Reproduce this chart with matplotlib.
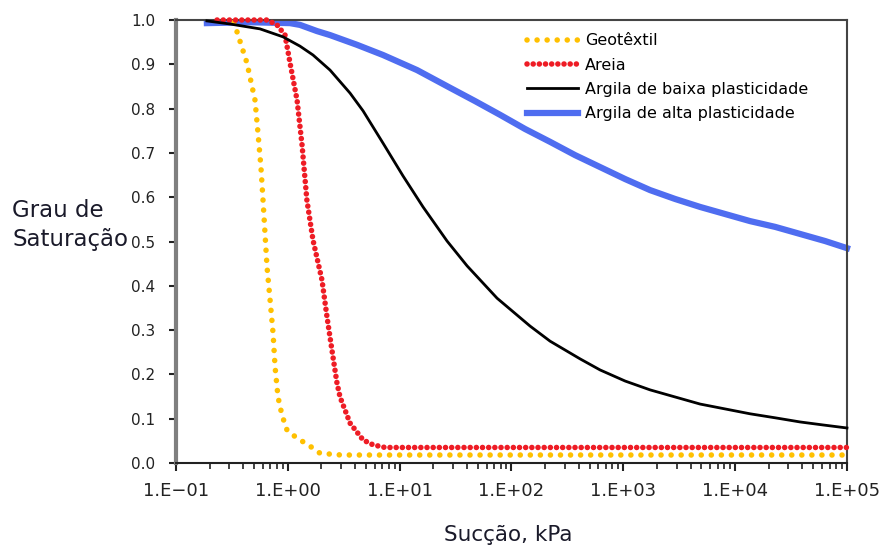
import matplotlib
matplotlib.use("Agg")
import matplotlib.pyplot as plt
from matplotlib.ticker import FixedLocator, LogLocator, NullFormatter

plt.rcParams['font.family'] = ['DejaVu Sans']

# Geotêxtil
geo_x = [0.33, 0.431, 0.509, 0.541, 0.575, 0.600, 0.625, 0.652, 0.694, 0.738,
         0.769, 0.817, 0.887, 0.984, 1.21, 1.52, 1.94, 3.0, 10.0, 100.0,
         1000.0, 10000.0, 100000.0]
geo_y = [0.995, 0.903, 0.819, 0.745, 0.668, 0.594, 0.519, 0.442, 0.368, 0.293,
         0.217, 0.149, 0.108, 0.074, 0.056, 0.041, 0.022, 0.018, 0.018, 0.018,
         0.018, 0.018, 0.018]

# Areia
are_x = [0.233, 0.652, 0.80, 0.944, 1.047, 1.21, 1.34, 1.48, 1.68, 2.02,
         2.24, 2.48, 2.75, 2.93, 3.60, 4.71, 5.78, 7.4, 100.0, 1000.0,
         10000.0, 100000.0]
are_y = [1.0, 1.0, 0.989, 0.966, 0.903, 0.819, 0.718, 0.594, 0.503, 0.413,
         0.330, 0.255, 0.181, 0.149, 0.090, 0.052, 0.041, 0.035, 0.035, 0.035,
         0.035, 0.035]

# Argila de baixa plasticidade
abp_x = [0.189, 0.304, 0.564, 0.906, 1.285, 1.68, 2.385, 3.601, 4.706, 7.104,
         10.72, 16.19, 26.55, 40.08, 74.33, 146.7, 221.4, 410.8, 620.2, 1038,
         1737, 2906, 4864, 8140, 13620, 22790, 38140, 61260, 100000]
abp_y = [0.998, 0.991, 0.980, 0.962, 0.941, 0.921, 0.887, 0.835, 0.795, 0.722,
         0.648, 0.578, 0.501, 0.445, 0.372, 0.309, 0.275, 0.235, 0.210, 0.185,
         0.165, 0.149, 0.133, 0.122, 0.111, 0.102, 0.0926, 0.0858, 0.079]

# Argila de alta plasticidade
aap_x = [0.189, 0.459, 1.046, 1.285, 1.825, 2.385, 4.159, 7.104, 14.31, 28.24,
         47.25, 79.07, 132.3, 221.4, 370.5, 620.2, 1038, 1737, 2906, 4864,
         8140, 13620, 22790, 38140, 63830, 100000]
aap_y = [0.993, 0.995, 0.993, 0.989, 0.975, 0.966, 0.944, 0.921, 0.887, 0.847,
         0.817, 0.786, 0.754, 0.725, 0.695, 0.668, 0.641, 0.616, 0.596, 0.578,
         0.562, 0.546, 0.533, 0.517, 0.501, 0.485]

xticks = [0.1, 1, 10, 100, 1000, 10000, 100000]
xtick_labels = ["1.E\u221201", "1.E+00", "1.E+01", "1.E+02", "1.E+03", "1.E+04", "1.E+05"]
yticks = [0.0, 0.1, 0.2, 0.3, 0.4, 0.5, 0.6, 0.7, 0.8, 0.9, 1.0]

fig = plt.figure(figsize=(8.83, 5.47), dpi=100)
ax = fig.add_axes([0.1993, 0.1536, 0.7599, 0.8098])

ax.plot(geo_x, geo_y, color='#FFC000', lw=4, ls=(0, (0.01, 1.8)),
        dash_capstyle='round', label='Geotêxtil', clip_on=False, zorder=3)
ax.plot(are_x, are_y, color='#EE1C25', lw=4, ls=(0, (0.01, 1.1)),
        dash_capstyle='round', label='Areia', clip_on=False, zorder=4)
ax.plot(abp_x, abp_y, color='black', lw=2, label='Argila de baixa plasticidade',
        clip_on=False, zorder=5, solid_joinstyle='round')
ax.plot(aap_x, aap_y, color='#4F6DF0', lw=4.5, label='Argila de alta plasticidade',
        clip_on=False, zorder=2, solid_joinstyle='round')

ax.set_xscale('log')
ax.set_xlim(0.1, 100000)
ax.set_ylim(0, 1.0)
ax.xaxis.set_major_locator(FixedLocator(xticks))
ax.set_xticklabels(xtick_labels)
ax.xaxis.set_minor_locator(LogLocator(base=10, subs=range(2, 10), numticks=20))
ax.xaxis.set_minor_formatter(NullFormatter())
ax.set_yticks(yticks)
ax.set_yticklabels([f"{v:.1f}" for v in yticks])

ax.tick_params(axis='x', which='major', direction='out', length=6, width=1.5,
               colors='#222222', labelsize=13, pad=8)
ax.tick_params(axis='x', which='minor', direction='out', length=4, width=1.2,
               colors='#222222')
ax.tick_params(axis='y', direction='out', length=5, width=1.5,
               colors='#222222', labelsize=11, pad=10)

ax.spines['left'].set_color('#7f7f7f')
ax.spines['left'].set_linewidth(3)
ax.spines['bottom'].set_color('#222222')
ax.spines['bottom'].set_linewidth(1.5)
ax.spines['top'].set_color('#444444')
ax.spines['top'].set_linewidth(1.5)
ax.spines['right'].set_color('#444444')
ax.spines['right'].set_linewidth(1.5)

fig.text(12 / 883, 1 - 225 / 547, "Grau de\nSaturação", ha='left', va='center',
         fontsize=16.5, color='#1a1a2a', linespacing=1.3)
fig.text(508 / 883, 1 - 535 / 547, "Sucção, kPa", ha='center', va='center',
         fontsize=15.5, color='#1a1a2a')

ax.legend(loc='upper left', bbox_to_anchor=(0.523, 0.97), frameon=False,
          borderpad=0, borderaxespad=0, handlelength=3.2, handletextpad=0.45,
          labelspacing=0.58, fontsize=11.5)

fig.savefig('out.png', dpi=100)
